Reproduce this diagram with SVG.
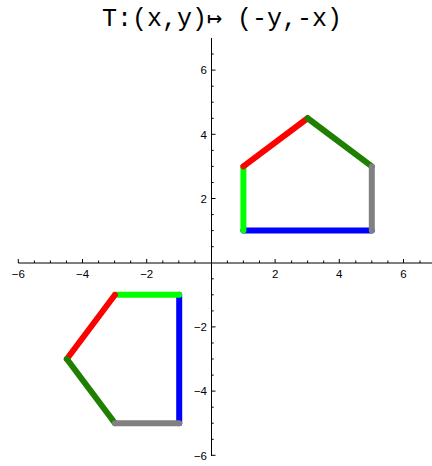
<svg xmlns="http://www.w3.org/2000/svg" width="432" height="466" viewBox="0 0 432 466">
<style>
.title{font-family:"Liberation Mono","DejaVu Sans Mono",monospace;font-size:25px;fill:#000}
.lbl{font-family:"Liberation Sans",Arial,sans-serif;font-size:11.5px;fill:#000}
.axis{stroke:#000;stroke-width:1;fill:none}
.tick{stroke:#000;stroke-width:1;fill:none}
.seg{stroke-width:6;stroke-linecap:round;fill:none}
</style>
<rect width="432" height="466" fill="#fff"/>
<text class="title" x="102" y="26">T:(x,y)↦ (-y,-x)</text>
<g id="axes">
<line class="axis" x1="18.3" y1="263" x2="432" y2="263"/>
<line class="axis" x1="211.5" y1="38" x2="211.5" y2="456"/>
<path class="tick" d="M18.3 259V263M82.5 259V263M146.7 259V263M275.1 259V263M339.3 259V263M403.5 259V263"/>
<path class="tick" d="M34.4 260.5V263M50.4 260.5V263M66.5 260.5V263M98.6 260.5V263M114.6 260.5V263M130.7 260.5V263M162.8 260.5V263M178.8 260.5V263M194.9 260.5V263M227.4 260.5V263M243.4 260.5V263M259.5 260.5V263M291.6 260.5V263M307.6 260.5V263M323.7 260.5V263M355.8 260.5V263M371.8 260.5V263M387.9 260.5V263M420 260.5V263"/>
<path class="tick" d="M211.5 70.1H215.5M211.5 134.3H215.5M211.5 198.5H215.5M211.5 326.9H215.5M211.5 391.1H215.5M211.5 455.3H215.5"/>
<path class="tick" d="M211.5 54H213.7M211.5 86.2H213.7M211.5 102.2H213.7M211.5 118.3H213.7M211.5 150.4H213.7M211.5 166.4H213.7M211.5 182.5H213.7M211.5 214.6H213.7M211.5 230.6H213.7M211.5 246.7H213.7M211.5 278.8H213.7M211.5 294.8H213.7M211.5 310.9H213.7M211.5 343H213.7M211.5 359H213.7M211.5 375.1H213.7M211.5 407.2H213.7M211.5 423.2H213.7M211.5 439.3H213.7"/>
<g class="lbl" text-anchor="middle">
<text x="18.3" y="278">−6</text>
<text x="82.5" y="278">−4</text>
<text x="146.7" y="278">−2</text>
<text x="275.1" y="278">2</text>
<text x="339.3" y="278">4</text>
<text x="403.5" y="278">6</text>
</g>
<g class="lbl" text-anchor="end">
<text x="207" y="74.3">6</text>
<text x="207" y="138.5">4</text>
<text x="207" y="202.7">2</text>
<text x="207" y="331.1">−2</text>
<text x="207" y="395.3">−4</text>
<text x="207" y="459.5">−6</text>
</g>
</g>
<g id="original">
<line class="seg" stroke="#0000ff" x1="243.4" y1="230.6" x2="371.8" y2="230.6"/>
<line class="seg" stroke="#00ff00" x1="243.4" y1="166.4" x2="243.4" y2="230.6"/>
<line class="seg" stroke="#ff0000" x1="307.6" y1="118.25" x2="243.4" y2="166.4"/>
<line class="seg" stroke="#1f7f00" x1="371.8" y1="166.4" x2="307.6" y2="118.25"/>
<line class="seg" stroke="#808080" x1="371.8" y1="230.6" x2="371.8" y2="166.4"/>
</g>
<g id="image">
<line class="seg" stroke="#0000ff" x1="179.2" y1="294.8" x2="179.2" y2="423.2"/>
<line class="seg" stroke="#00ff00" x1="115" y1="294.8" x2="179.2" y2="294.8"/>
<line class="seg" stroke="#ff0000" x1="66.85" y1="359" x2="115" y2="294.8"/>
<line class="seg" stroke="#1f7f00" x1="115" y1="423.2" x2="66.85" y2="359"/>
<line class="seg" stroke="#808080" x1="179.2" y1="423.2" x2="115" y2="423.2"/>
</g>
</svg>
